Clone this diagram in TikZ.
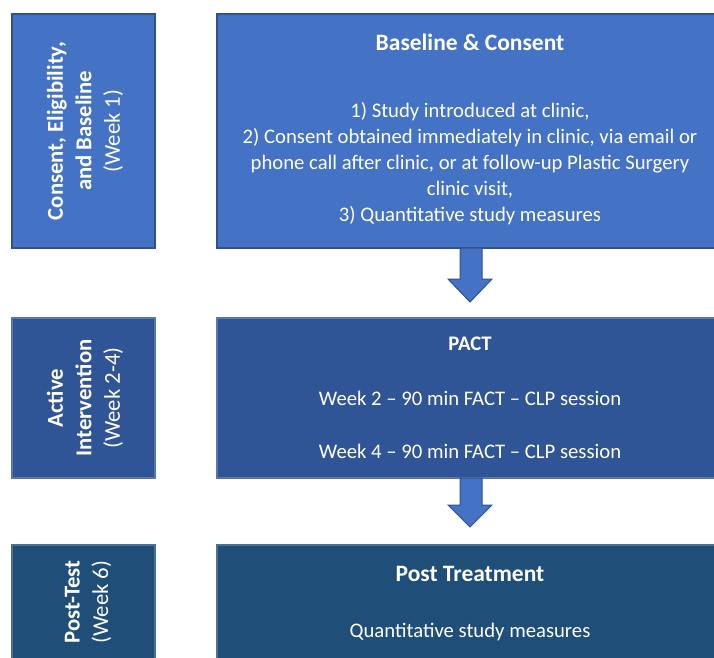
\documentclass[tikz,border=0pt]{standalone}
\usepackage{fontspec}
\setmainfont{Carlito}
\usetikzlibrary{shapes.arrows}
\definecolor{blueA}{HTML}{4472C4}
\definecolor{blueB}{HTML}{2F5597}
\definecolor{blueC}{HTML}{1F4E79}
\definecolor{edgeA}{HTML}{2F528F}
\begin{document}
\begin{tikzpicture}[x=1pt,y=-1pt,
  box/.style={draw=edgeA,line width=1.2pt},
  txt/.style={text=white,align=center,font=\fontsize{20.7}{26}\selectfont},
  ttl/.style={text=white,font=\fontsize{23.5}{26}\selectfont\bfseries},
  side/.style={text=white,align=center,rotate=90,font=\fontsize{22.7}{28.5}\selectfont},
  blk/.style={fill=blueA,draw=edgeA,line width=1pt}]
\useasboundingbox (0,0) rectangle (714,657);
\clip (0,0) rectangle (714,657);
% left boxes
\path[box,fill=blueA] (12,14) rectangle (155,248);
\path[box,fill=blueB,draw=blueB!80!white] (12,318) rectangle (155,478);
\path[box,fill=blueC,draw=blueC!80!white] (12,545) rectangle (155,670);
% right boxes
\path[box,fill=blueA] (217,14) rectangle (724,248);
\path[box,fill=blueB,draw=blueB!80!white] (217,318) rectangle (724,478);
\path[box,fill=blueC,draw=blueC!80!white] (217,545) rectangle (724,670);
% side labels
\node[side] (s1) at (85,131) {\textbf{Consent, Eligibility,}\\\textbf{and Baseline}\\(Week 1)};
\node[side] (s2) at (85,398) {\textbf{Active}\\\textbf{Intervention}\\(Week 2-4)};
\node[side] (s3) at (88,602) {\textbf{Post-Test}\\(Week 6)};
% right texts
\node[ttl] (t1) at (470,42) {Baseline \& Consent};
\node[txt] (b1) at (470,164) {1) Study introduced at clinic,\\2) Consent obtained immediately in clinic, via email or\\phone call after clinic, or at follow-up Plastic Surgery\\clinic visit,\\3) Quantitative study measures};
\node[ttl,font=\fontsize{20.7}{24}\selectfont\bfseries] (t2) at (470,344) {PACT};
\node[txt] (w2) at (470,398) {Week 2 -- 90 min FACT -- CLP session};
\node[txt] (w4) at (470,451) {Week 4 -- 90 min FACT -- CLP session};
\node[ttl] (t3) at (470,574) {Post Treatment};
\node[txt] (q3) at (470,632) {Quantitative study measures};
% block arrows
\path[blk] (460,248) -- (482,248) -- (482,279) -- (492,279) -- (470,302) -- (448,279) -- (460,279) -- cycle;
\path[blk] (460,478) -- (482,478) -- (482,505) -- (492,505) -- (470,527) -- (448,505) -- (460,505) -- cycle;
\end{tikzpicture}
\end{document}
